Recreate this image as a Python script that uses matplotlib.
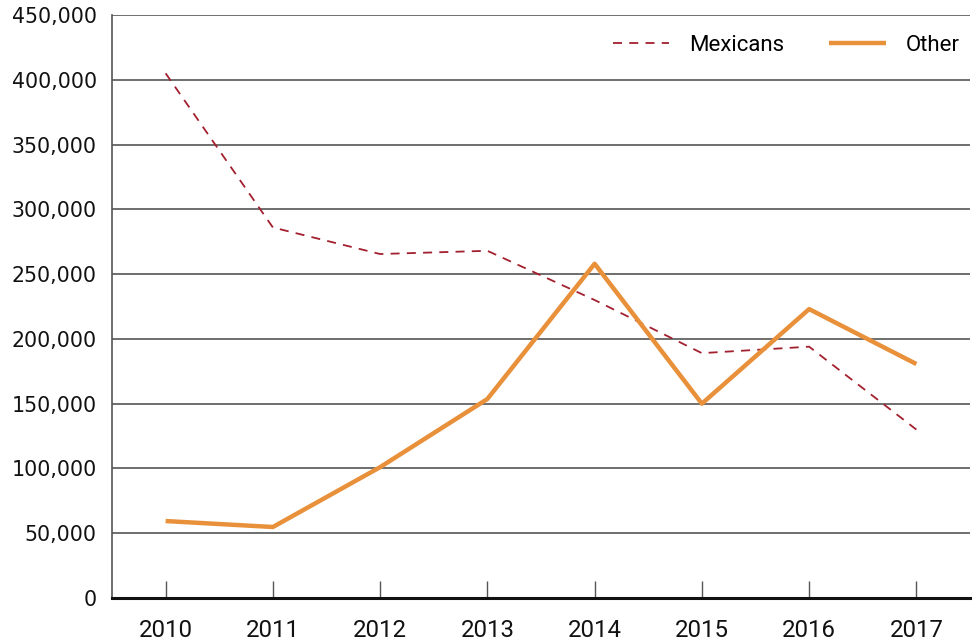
import matplotlib
matplotlib.use("Agg")
import matplotlib.pyplot as plt
from matplotlib.ticker import FuncFormatter

years = [2010, 2011, 2012, 2013, 2014, 2015, 2016, 2017]
mexicans = [405000, 286000, 265500, 268000, 230000, 189000, 194000, 130000]
other = [59400, 54800, 101000, 153600, 258000, 150000, 223000, 180600]
yticks = [0, 50000, 100000, 150000, 200000, 250000, 300000, 350000, 400000, 450000]

narrow = ["Roboto", "DejaVu Sans"]

fig = plt.figure(figsize=(9.74, 6.44), dpi=100)
ax = fig.add_axes([112/974, 46/644, (970-112)/974, (598-15)/644])

ax.plot(years, mexicans, color="#A3202F", lw=1.3, ls=(0, (5, 4)), label="Mexicans")
ax.plot(years, other, color="#E8903A", lw=3.2, label="Other", solid_capstyle="butt")

ax.set_xlim(2009.5, 2017.5)
ax.set_ylim(0, 450000)
ax.set_yticks(yticks)
ax.yaxis.set_major_formatter(FuncFormatter(lambda v, p: f"{int(v):,}"))
ax.set_xticks(years)
ax.set_xticklabels([str(y) for y in years], family=narrow, fontsize=17.3)
for lab in ax.get_yticklabels():
    lab.set_family(["DejaVu Sans"])
    lab.set_fontsize(14.8)

ax.grid(axis="y", color="#555555", lw=1.2)
ax.set_axisbelow(True)
for s in ["top", "right"]:
    ax.spines[s].set_visible(False)
ax.spines["left"].set_color("#555555")
ax.spines["left"].set_linewidth(1.2)
ax.spines["bottom"].set_color("#111111")
ax.spines["bottom"].set_linewidth(2.2)
ax.tick_params(axis="y", length=0, pad=11, colors="#111111")
ax.tick_params(axis="x", direction="in", length=12, width=1, color="#555555", pad=15, labelcolor="#111111")

leg = ax.legend(loc="center right", bbox_to_anchor=(0.988, 0.9485), ncol=2, frameon=False,
                prop={"family": narrow, "size": 16}, handlelength=2.55, columnspacing=2.0,
                handletextpad=0.9, borderpad=0, borderaxespad=0)

fig.savefig("out.png", dpi=100)
